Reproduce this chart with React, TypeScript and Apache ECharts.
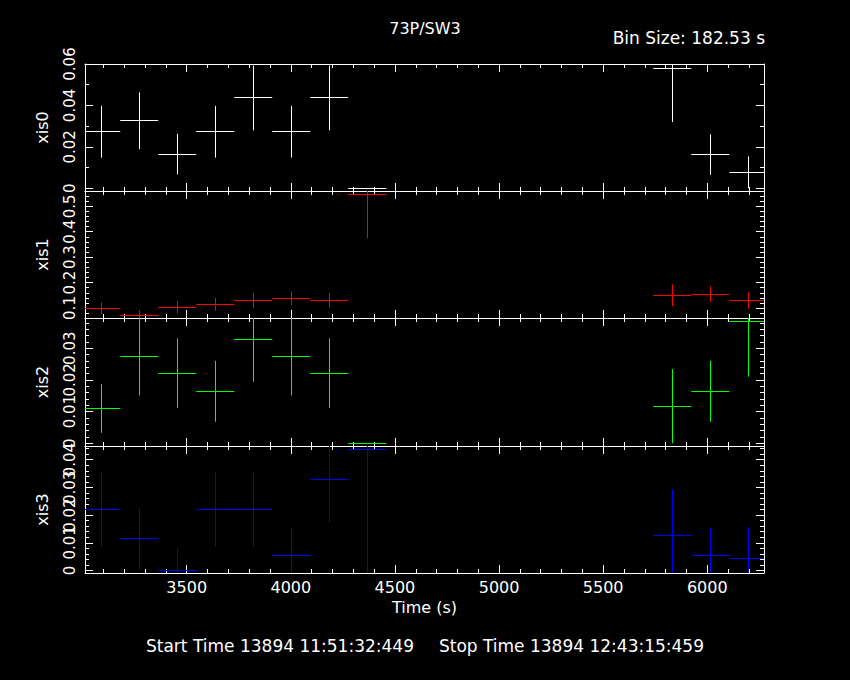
import React, { useEffect, useRef } from "react";
import * as echarts from "echarts";

// ---- data ----
const BIN_TIMES = [3089.5, 3272.0, 3454.6, 3637.1, 3819.6, 4002.2, 4184.7, 4367.2, 5831.9, 6014.4, 6197.0];
const HALF_BIN = 91.265; // bin size 182.53 s / 2

const XIS0_RATE = [0.0273, 0.0326, 0.0165, 0.0273, 0.0436, 0.0273, 0.0436, 0, 0.058, 0.0163, 0.0077];
const XIS0_ERR = [0.0125, 0.0137, 0.0098, 0.0125, 0.0156, 0.0125, 0.0156, 0, 0.026, 0.0098, 0.0077];
const XIS1_RATE = [0.0988, 0.0713, 0.1028, 0.1146, 0.130, 0.138, 0.130, 0.547, 0.150, 0.154, 0.130];
const XIS1_ERR = [0.0235, 0.0197, 0.025, 0.025, 0.029, 0.027, 0.029, 0.173, 0.043, 0.031, 0.032];
const XIS2_RATE = [0.0110, 0.0274, 0.0221, 0.0164, 0.0328, 0.0274, 0.0221, 0, 0.0117, 0.0164, 0.0385];
const XIS2_ERR = [0.0077, 0.0123, 0.011, 0.0096, 0.0134, 0.0123, 0.011, 0, 0.0117, 0.0096, 0.0175];
const XIS3_RATE = [0.0221, 0.0114, 0.0001, 0.0221, 0.0221, 0.0055, 0.0329, 0.0438, 0.0127, 0.0055, 0.0044];
const XIS3_ERR = [0.0135, 0.0112, 0.008, 0.0135, 0.0135, 0.0098, 0.0156, 0.046, 0.0166, 0.0098, 0.0112];

const X_MAJOR = [3500, 4000, 4500, 5000, 5500, 6000];
const XIS0_TICKS = [0, 0.02, 0.04, 0.06];
const XIS1_TICKS = [0.1, 0.2, 0.3, 0.4, 0.5];
const XIS2_TICKS = [0, 0.01, 0.02, 0.03];
const XIS3_TICKS = [0, 0.01, 0.02, 0.03, 0.04];

const TITLE = "73P/SW3";
const BIN_LABEL = "Bin Size: 182.53 s";
const START_LABEL = "Start Time 13894 11:51:32:449";
const STOP_LABEL = "Stop Time 13894 12:43:15:459";

const FONT = "DejaVu Sans";

function steps(a: number, b: number, s: number): number[] {
  const out: number[] = [];
  const n = Math.round((b - a) / s);
  for (let i = 0; i <= n; i++) out.push(Number((a + i * s).toFixed(6)));
  return out;
}

const X_MINOR = steps(3100, 6200, 100);

const PANELS = [
  { name: "xis0", rate: XIS0_RATE, err: XIS0_ERR, color: "#ffffff", min: -0.0013, max: 0.06, major: XIS0_TICKS, minor: steps(0, 0.06, 0.01) },
  { name: "xis1", rate: XIS1_RATE, err: XIS1_ERR, color: "#ff0000", min: 0.0607, max: 0.5602, major: XIS1_TICKS, minor: steps(0.08, 0.54, 0.02) },
  { name: "xis2", rate: XIS2_RATE, err: XIS2_ERR, color: "#00ff00", min: -0.00085, max: 0.03953, major: XIS2_TICKS, minor: steps(0, 0.038, 0.002) },
  { name: "xis3", rate: XIS3_RATE, err: XIS3_ERR, color: "#0000ff", min: -0.0009, max: 0.04495, major: XIS3_TICKS, minor: steps(0, 0.044, 0.002) },
];

const GRID_TOPS = [64, 191, 318, 446];
const GRID_HEIGHTS = [127, 127, 128, 127];
const X_MIN = 3011.6;
const X_MAX = 6272.3;

export default function App() {
  const ref = useRef<HTMLDivElement>(null);

  useEffect(() => {
    document.body.style.margin = "0";
    document.body.style.background = "#000";
    if (!ref.current) return;
    const chart = echarts.init(ref.current, null, { renderer: "svg" });

    const white = "#ffffff";
    const lineStyle = { color: white, width: 1 };

    const grids: any[] = [];
    const xAxes: any[] = [];
    const yAxes: any[] = [];
    const series: any[] = [];

    PANELS.forEach((p, i) => {
      grids.push({ left: 85, top: GRID_TOPS[i], width: 679, height: GRID_HEIGHTS[i], outerBoundsMode: "none", containLabel: false });
      const isLast = i === PANELS.length - 1;
      const xBase = {
        type: "value", gridIndex: i, min: X_MIN, max: X_MAX,
        splitLine: { show: false },
      };
      const mkX = (position: string, major: boolean, showLine: boolean, labels: boolean) => ({
        ...xBase,
        position,
        axisLine: { show: showLine, onZero: false, lineStyle },
        axisTick: { show: true, inside: true, length: major ? 8 : 4, lineStyle, customValues: major ? X_MAJOR : X_MINOR },
        axisLabel: labels
          ? {
              show: true, customValues: X_MAJOR, color: white, fontFamily: FONT, fontSize: 16, margin: 6,
              showMinLabel: true, showMaxLabel: true, hideOverlap: false,
              formatter: (v: number) => String(v),
            }
          : { show: false },
        ...(labels
          ? { name: "Time (s)", nameLocation: "middle", nameGap: 26, nameTextStyle: { color: white, fontFamily: FONT, fontSize: 16 } }
          : {}),
      });
      xAxes.push(mkX("bottom", true, true, isLast));
      xAxes.push(mkX("bottom", false, false, false));
      xAxes.push(mkX("top", true, true, false));
      xAxes.push(mkX("top", false, false, false));

      const yBase = { type: "value", gridIndex: i, min: p.min, max: p.max, splitLine: { show: false } };
      const mkY = (position: string, major: boolean, showLine: boolean, named: boolean) => ({
        ...yBase,
        position,
        axisLine: { show: showLine, onZero: false, lineStyle },
        axisTick: { show: true, inside: true, length: major ? 8 : 4, lineStyle, customValues: major ? p.major : p.minor },
        axisLabel: { show: false },
        ...(named
          ? { name: p.name, nameLocation: "middle", nameGap: 35, nameTextStyle: { color: white, fontFamily: FONT, fontSize: 16 } }
          : {}),
      });
      const firstY = yAxes.length;
      yAxes.push(mkY("left", true, true, true));
      yAxes.push(mkY("left", false, false, false));
      yAxes.push(mkY("right", true, true, false));
      yAxes.push(mkY("right", false, false, false));
      // one label-only axis per tick label so none is dropped for overlap
      p.major.forEach((val) => {
        yAxes.push({
          ...yBase,
          position: "left",
          axisLine: { show: false, onZero: false },
          axisTick: { show: false },
          axisLabel: {
            show: true, customValues: [val], rotate: 90, color: white, fontFamily: FONT, fontSize: 15, margin: 8,
            showMinLabel: true, showMaxLabel: true, hideOverlap: false,
            formatter: (v: number) => String(Number(v.toFixed(4))),
          },
        });
      });

      const data = BIN_TIMES.map((t, k) => [t, p.rate[k], p.err[k]]);
      const color = p.color;
      series.push({
        type: "custom",
        xAxisIndex: i * 4,
        yAxisIndex: firstY,
        clip: true,
        data,
        renderItem: (params: any, api: any) => {
          const t = api.value(0);
          const v = api.value(1);
          const e = api.value(2);
          const l = api.coord([t - HALF_BIN, v]);
          const r = api.coord([t + HALF_BIN, v]);
          const top = api.coord([t, v + e]);
          const bot = api.coord([t, v - e]);
          const cx = Math.floor(top[0]) + 0.5;
          const cy = Math.floor(l[1]) + 0.5;
          const style = { stroke: color, lineWidth: 1, fill: null };
          return {
            type: "group",
            children: [
              { type: "line", shape: { x1: l[0], y1: cy, x2: r[0], y2: cy }, style },
              { type: "line", shape: { x1: cx, y1: top[1], x2: cx, y2: bot[1] }, style },
            ],
          };
        },
      });
    });

    const textStyle = (text: string, extra: any) => ({
      text, fill: white, fontFamily: FONT, fontSize: 16, ...extra,
    });

    chart.setOption({
      animation: false,
      backgroundColor: "#000000",
      grid: grids,
      xAxis: xAxes,
      yAxis: yAxes,
      series,
      graphic: [
        { type: "text", left: "center", top: 20, style: textStyle(TITLE, {}) },
        { type: "text", x: 765, y: 38, style: textStyle(BIN_LABEL, { fontSize: 17, textAlign: "right", textVerticalAlign: "middle" }) },
        { type: "text", x: 146, y: 646, style: textStyle(START_LABEL, { fontSize: 17, textAlign: "left", textVerticalAlign: "middle" }) },
        { type: "text", x: 704, y: 646, style: textStyle(STOP_LABEL, { fontSize: 17, textAlign: "right", textVerticalAlign: "middle" }) },
      ],
    });

    return () => chart.dispose();
  }, []);

  return (
    <div
      ref={ref}
      style={{ position: "absolute", left: 0, top: 0, width: 850, height: 680, background: "#000" }}
    />
  );
}
